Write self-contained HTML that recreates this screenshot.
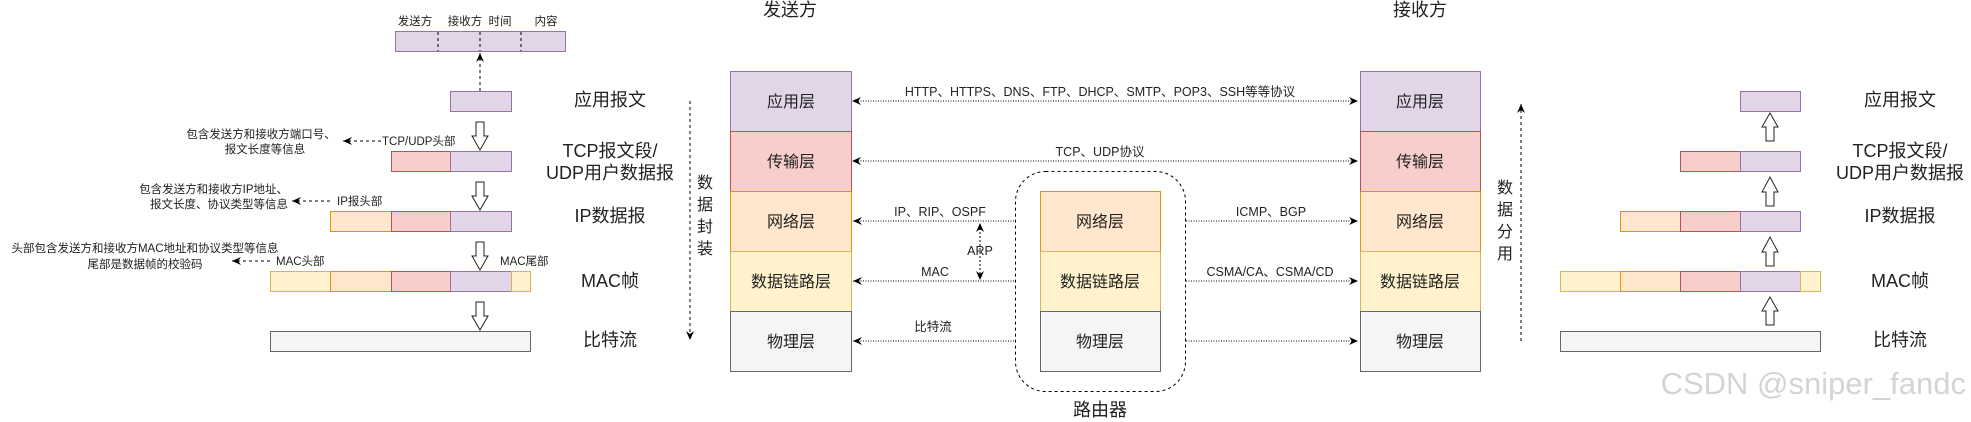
<!DOCTYPE html>
<html><head><meta charset="utf-8"><style>
html,body{margin:0;padding:0;background:#fff;}
svg{display:block;}
text{font-family:"Liberation Sans","Noto Sans CJK SC",sans-serif;fill:#222;}
.s{font-size:11.5px;}
.m{font-size:12.5px;}
.l{font-size:16px;}
.b{font-size:18px;}
</style></head><body>
<svg width="1971" height="422" viewBox="0 0 1971 422" xmlns="http://www.w3.org/2000/svg">
<defs>
<marker id="ah" markerWidth="10" markerHeight="10" refX="9" refY="5" orient="auto" markerUnits="userSpaceOnUse">
<path d="M0,1 L9,5 L0,9 L3,5 Z" fill="#000"/></marker>
<marker id="as" markerWidth="10" markerHeight="10" refX="1" refY="5" orient="auto" markerUnits="userSpaceOnUse">
<path d="M9,1 L0,5 L9,9 L6,5 Z" fill="#000"/></marker>
</defs>

<!-- LEFT column -->
<g class="s" text-anchor="middle">
<text x="415" y="25">发送方</text><text x="465" y="25">接收方</text><text x="500" y="25">时间</text><text x="546" y="25">内容</text>
</g>
<rect x="395.5" y="31.5" width="170" height="20" fill="#e1d5e7" stroke="#9673a6"/>
<g stroke="#000" stroke-dasharray="3,3"><line x1="438" y1="32" x2="438" y2="51"/><line x1="480" y1="32" x2="480" y2="51"/><line x1="521" y1="32" x2="521" y2="51"/></g>
<line x1="480" y1="91" x2="480" y2="53" stroke="#000" stroke-dasharray="3,3" marker-end="url(#ah)"/>

<rect x="450.5" y="91.5" width="61" height="20" fill="#e1d5e7" stroke="#9673a6"/>
<rect x="391.5" y="151.5" width="59" height="20" fill="#f8cecc" stroke="#b85450"/>
<rect x="450.5" y="151.5" width="61" height="20" fill="#e1d5e7" stroke="#9673a6"/>
<rect x="330.5" y="211.5" width="61" height="20" fill="#ffe6cc" stroke="#d79b00"/>
<rect x="391.5" y="211.5" width="59" height="20" fill="#f8cecc" stroke="#b85450"/>
<rect x="450.5" y="211.5" width="61" height="20" fill="#e1d5e7" stroke="#9673a6"/>
<rect x="270.5" y="271.5" width="60" height="20" fill="#fff2cc" stroke="#d6b656"/>
<rect x="330.5" y="271.5" width="61" height="20" fill="#ffe6cc" stroke="#d79b00"/>
<rect x="391.5" y="271.5" width="59" height="20" fill="#f8cecc" stroke="#b85450"/>
<rect x="450.5" y="271.5" width="61" height="20" fill="#e1d5e7" stroke="#9673a6"/>
<rect x="511.5" y="271.5" width="19" height="20" fill="#fff2cc" stroke="#d6b656"/>
<rect x="270.5" y="331.5" width="260" height="20" fill="#f5f5f5" stroke="#666"/>

<!-- down hollow arrows -->
<g fill="#fff" stroke="#222" stroke-width="1">
<path d="M476,122 H484 V136 H488 L480,150 L472,136 H476 Z"/>
<path d="M476,182 H484 V196 H488 L480,210 L472,196 H476 Z"/>
<path d="M476,242 H484 V256 H488 L480,270 L472,256 H476 Z"/>
<path d="M476,302 H484 V316 H488 L480,330 L472,316 H476 Z"/>
</g>

<text class="s" x="382" y="145">TCP/UDP头部</text>
<line x1="381" y1="141" x2="343" y2="141" stroke="#000" stroke-dasharray="3,3" marker-end="url(#ah)"/>
<g class="s" text-anchor="middle"><text x="261" y="138">包含发送方和接收方端口号、</text><text x="265" y="153">报文长度等信息</text></g>
<text class="s" x="337" y="205">IP报头部</text>
<line x1="330" y1="201" x2="292" y2="201" stroke="#000" stroke-dasharray="3,3" marker-end="url(#ah)"/>
<g class="s" text-anchor="end"><text x="288" y="193">包含发送方和接收方IP地址、</text><text x="288" y="208">报文长度、协议类型等信息</text></g>
<text class="s" x="276" y="265">MAC头部</text>
<line x1="270" y1="261" x2="232" y2="261" stroke="#000" stroke-dasharray="3,3" marker-end="url(#ah)"/>
<text class="s" x="500" y="265">MAC尾部</text>
<g class="s" text-anchor="middle"><text x="145" y="252">头部包含发送方和接收方MAC地址和协议类型等信息</text><text x="145" y="268">尾部是数据帧的校验码</text></g>

<g class="b" text-anchor="middle">
<text x="610" y="106">应用报文</text>
<text x="610" y="157">TCP报文段/</text><text x="610" y="179">UDP用户数据报</text>
<text x="610" y="222">IP数据报</text>
<text x="610" y="287">MAC帧</text>
<text x="610" y="346">比特流</text>
</g>

<!-- MIDDLE sender stack -->
<text class="b" x="790" y="16" text-anchor="middle">发送方</text>
<rect x="730.5" y="71.5" width="121" height="60" fill="#e1d5e7" stroke="#9673a6"/>
<rect x="730.5" y="131.5" width="121" height="60" fill="#f8cecc" stroke="#b85450"/>
<rect x="730.5" y="191.5" width="121" height="60" fill="#ffe6cc" stroke="#d79b00"/>
<rect x="730.5" y="251.5" width="121" height="60" fill="#fff2cc" stroke="#d6b656"/>
<rect x="730.5" y="311.5" width="121" height="60" fill="#f5f5f5" stroke="#666"/>
<g class="l" text-anchor="middle">
<text x="791" y="107">应用层</text><text x="791" y="167">传输层</text><text x="791" y="227">网络层</text><text x="791" y="287">数据链路层</text><text x="791" y="347" fill="#333">物理层</text>
</g>
<line x1="690" y1="101" x2="690" y2="340" stroke="#000" stroke-dasharray="3,3" marker-end="url(#ah)"/>
<g class="l" text-anchor="middle"><text x="705" y="188">数</text><text x="705" y="210">据</text><text x="705" y="232">封</text><text x="705" y="254">装</text></g>

<!-- router -->
<rect x="1015.5" y="171.5" width="170" height="220" rx="30" fill="none" stroke="#000" stroke-dasharray="3,3"/>
<rect x="1040.5" y="191.5" width="120" height="60" fill="#ffe6cc" stroke="#d79b00"/>
<rect x="1040.5" y="251.5" width="120" height="60" fill="#fff2cc" stroke="#d6b656"/>
<rect x="1040.5" y="311.5" width="120" height="60" fill="#f5f5f5" stroke="#666"/>
<g class="l" text-anchor="middle"><text x="1100" y="227">网络层</text><text x="1100" y="287">数据链路层</text><text x="1100" y="347" fill="#333">物理层</text></g>
<text class="b" x="1100" y="416" text-anchor="middle">路由器</text>

<!-- connectors -->
<g stroke="#000" stroke-dasharray="1,1.5" fill="none">
<line x1="853" y1="101" x2="1358" y2="101" marker-start="url(#as)" marker-end="url(#ah)"/>
<line x1="853" y1="161" x2="1358" y2="161" marker-start="url(#as)" marker-end="url(#ah)"/>
<line x1="1014" y1="221" x2="853" y2="221" marker-end="url(#ah)"/>
<line x1="1014" y1="281" x2="853" y2="281" marker-end="url(#ah)"/>
<line x1="1014" y1="341" x2="853" y2="341" marker-end="url(#ah)"/>
<line x1="1186" y1="221" x2="1358" y2="221" marker-end="url(#ah)"/>
<line x1="1186" y1="281" x2="1358" y2="281" marker-end="url(#ah)"/>
<line x1="1186" y1="341" x2="1358" y2="341" marker-end="url(#ah)"/>
<line x1="980" y1="224" x2="980" y2="280" stroke-dasharray="2,2" marker-start="url(#as)" marker-end="url(#ah)"/>
</g>
<g class="m" text-anchor="middle">
<text x="1100" y="96">HTTP、HTTPS、DNS、FTP、DHCP、SMTP、POP3、SSH等等协议</text>
<text x="1100" y="156">TCP、UDP协议</text>
<text x="940" y="216">IP、RIP、OSPF</text>
<text x="980" y="255">ARP</text>
<text x="935" y="276">MAC</text>
<text x="933" y="331">比特流</text>
<text x="1271" y="216">ICMP、BGP</text>
<text x="1270" y="276">CSMA/CA、CSMA/CD</text>
</g>

<!-- receiver stack -->
<text class="b" x="1420" y="16" text-anchor="middle">接收方</text>
<rect x="1360.5" y="71.5" width="120" height="60" fill="#e1d5e7" stroke="#9673a6"/>
<rect x="1360.5" y="131.5" width="120" height="60" fill="#f8cecc" stroke="#b85450"/>
<rect x="1360.5" y="191.5" width="120" height="60" fill="#ffe6cc" stroke="#d79b00"/>
<rect x="1360.5" y="251.5" width="120" height="60" fill="#fff2cc" stroke="#d6b656"/>
<rect x="1360.5" y="311.5" width="120" height="60" fill="#f5f5f5" stroke="#666"/>
<g class="l" text-anchor="middle">
<text x="1420" y="107">应用层</text><text x="1420" y="167">传输层</text><text x="1420" y="227">网络层</text><text x="1420" y="287">数据链路层</text><text x="1420" y="347" fill="#333">物理层</text>
</g>
<line x1="1521" y1="341" x2="1521" y2="104" stroke="#000" stroke-dasharray="3,3" marker-end="url(#ah)"/>
<g class="l" text-anchor="middle"><text x="1505" y="193">数</text><text x="1505" y="215">据</text><text x="1505" y="237">分</text><text x="1505" y="259">用</text></g>

<!-- right column -->
<rect x="1740.5" y="91.5" width="60" height="20" fill="#e1d5e7" stroke="#9673a6"/>
<rect x="1680.5" y="151.5" width="60" height="20" fill="#f8cecc" stroke="#b85450"/>
<rect x="1740.5" y="151.5" width="60" height="20" fill="#e1d5e7" stroke="#9673a6"/>
<rect x="1620.5" y="211.5" width="60" height="20" fill="#ffe6cc" stroke="#d79b00"/>
<rect x="1680.5" y="211.5" width="60" height="20" fill="#f8cecc" stroke="#b85450"/>
<rect x="1740.5" y="211.5" width="60" height="20" fill="#e1d5e7" stroke="#9673a6"/>
<rect x="1560.5" y="271.5" width="60" height="20" fill="#fff2cc" stroke="#d6b656"/>
<rect x="1620.5" y="271.5" width="60" height="20" fill="#ffe6cc" stroke="#d79b00"/>
<rect x="1680.5" y="271.5" width="60" height="20" fill="#f8cecc" stroke="#b85450"/>
<rect x="1740.5" y="271.5" width="60" height="20" fill="#e1d5e7" stroke="#9673a6"/>
<rect x="1800.5" y="271.5" width="20" height="20" fill="#fff2cc" stroke="#d6b656"/>
<rect x="1560.5" y="331.5" width="260" height="20" fill="#f5f5f5" stroke="#666"/>
<g fill="#fff" stroke="#222" stroke-width="1">
<path d="M1766,141 H1774 V127 H1778 L1770,113 L1762,127 H1766 Z"/>
<path d="M1766,206 H1774 V192 H1778 L1770,177 L1762,192 H1766 Z"/>
<path d="M1766,266 H1774 V252 H1778 L1770,237 L1762,252 H1766 Z"/>
<path d="M1766,325 H1774 V311 H1778 L1770,297 L1762,311 H1766 Z"/>
</g>
<g class="b" text-anchor="middle">
<text x="1900" y="106">应用报文</text>
<text x="1900" y="157">TCP报文段/</text><text x="1900" y="179">UDP用户数据报</text>
<text x="1900" y="222">IP数据报</text>
<text x="1900" y="287">MAC帧</text>
<text x="1900" y="346">比特流</text>
</g>
<text x="1966" y="394" text-anchor="end" style="font-size:31px;fill:#d4d4d4">CSDN @sniper_fandc</text>
</svg>
</body></html>
